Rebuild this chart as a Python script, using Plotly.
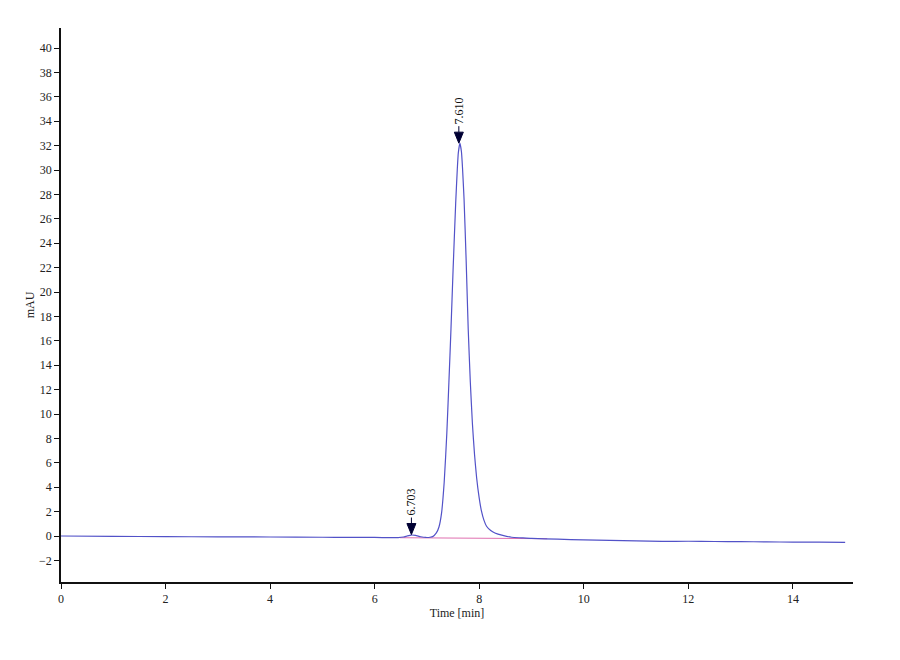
import plotly.graph_objects as go

# Chromatogram trace (time in min, signal in mAU)
time_min = [0.0, 1.0, 2.0, 3.0, 4.0, 5.0, 5.5, 6.0, 6.3, 6.45, 6.55, 6.62, 6.70, 6.78,
            6.88, 6.98, 7.06, 7.11, 7.18, 7.23, 7.28, 7.33, 7.38, 7.42, 7.46, 7.50,
            7.55, 7.58, 7.60, 7.63, 7.66, 7.68, 7.71, 7.75, 7.79, 7.83, 7.87, 7.91,
            7.95, 8.00, 8.04, 8.09, 8.14, 8.22, 8.30, 8.45, 8.62, 8.80, 9.0, 9.5,
            10.0, 10.5, 11.0, 11.5, 12.0, 12.5, 13.0, 13.5, 14.0, 14.5, 15.0]
signal_mau = [0.0, -0.03, -0.05, -0.07, -0.08, -0.1, -0.11, -0.12, -0.13, -0.13, -0.08, 0.0,
              0.08, 0.05, -0.06, -0.12, -0.1, -0.05, 0.25, 0.74, 1.9, 4.4, 8.4, 12.6,
              17.0, 21.8, 27.3, 30.0, 31.4, 32.2, 31.5, 30.2, 27.6, 22.6, 16.9, 12.6,
              9.2, 6.7, 4.8, 3.1, 2.1, 1.3, 0.8, 0.45, 0.25, 0.05, -0.1, -0.15, -0.2,
              -0.26, -0.32, -0.36, -0.4, -0.44, -0.43, -0.45, -0.46, -0.48, -0.5, -0.5, -0.52]

# Integration baseline
baseline_t = [6.48, 9.3]
baseline_v = [-0.14, -0.22]

# Peak marks
peak_rt = [6.703, 7.610]
peak_h = [0.12, 32.2]
peak_labels = ["6.703", "7.610"]

x_ticks = [0, 2, 4, 6, 8, 10, 12, 14]
y_ticks = list(range(-2, 41, 2))

fig = go.Figure()
fig.add_trace(go.Scatter(x=baseline_t, y=baseline_v, mode="lines",
                         line=dict(color="#e070b0", width=1), hoverinfo="skip"))
fig.add_trace(go.Scatter(x=time_min, y=signal_mau, mode="lines",
                         line=dict(color="#5252c8", width=1.2, shape="spline", smoothing=0.5)))

shapes = []
annotations = []
for rt, h, lab in zip(peak_rt, peak_h, peak_labels):
    shapes.append(dict(type="path", xref="x", yref="y", xsizemode="pixel", ysizemode="pixel",
                       xanchor=rt, yanchor=h, path="M-4.5,11 L4.5,11 L0,0 Z",
                       fillcolor="#000033", line=dict(color="#000033", width=1)))
    shapes.append(dict(type="path", xref="x", yref="y", xsizemode="pixel", ysizemode="pixel",
                       xanchor=rt, yanchor=h, path="M0,11 L0,17",
                       line=dict(color="#000033", width=1)))
    annotations.append(dict(x=rt, y=h, xref="x", yref="y", text=lab, showarrow=False,
                            textangle=-90, xanchor="center", yanchor="bottom", yshift=17,
                            font=dict(family="Liberation Serif", size=12, color="#111")))

fig.update_layout(
    width=900, height=660,
    margin=dict(l=53, r=55, t=20, b=86),
    paper_bgcolor="white", plot_bgcolor="white",
    showlegend=False,
    shapes=shapes, annotations=annotations,
    font=dict(family="Liberation Serif", size=12, color="#222"),
)
fig.update_xaxes(range=[0, 15.15], tickvals=x_ticks, showgrid=False, zeroline=False,
                 showline=True, linecolor="#111", linewidth=1.6,
                 ticks="outside", ticklen=5, tickcolor="#111",
                 tickfont=dict(family="Liberation Serif", size=12, color="#222"),
                 title=dict(text="Time [min]", standoff=0,
                            font=dict(family="Liberation Serif", size=12, color="#222")))
fig.update_yaxes(range=[-3.77, 41.64], tickvals=y_ticks, showgrid=False, zeroline=False,
                 showline=True, linecolor="#111", linewidth=1.6,
                 ticks="outside", ticklen=5, tickcolor="#111",
                 tickfont=dict(family="Liberation Serif", size=12, color="#222"),
                 title=dict(text="mAU", standoff=2,
                            font=dict(family="Liberation Serif", size=12, color="#222")))

fig.write_html("out.html")
